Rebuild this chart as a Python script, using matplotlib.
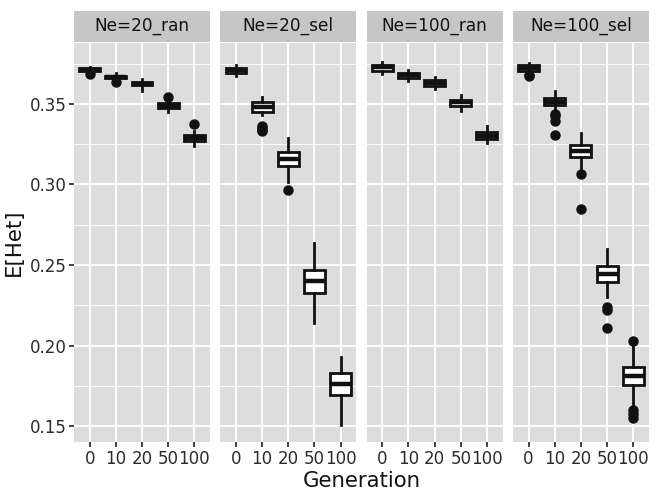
## Faceted boxplots of E[Het] by generation (ggplot-like look)

import matplotlib
matplotlib.use('Agg')
import matplotlib.pyplot as plt

## Data
panels = ['Ne=20_ran', 'Ne=20_sel', 'Ne=100_ran', 'Ne=100_sel']
generations = ['0', '10', '20', '50', '100']

medians = [
    [0.3710, 0.3668, 0.3625, 0.3490, 0.3290],
    [0.3708, 0.3483, 0.3157, 0.2403, 0.1760],
    [0.3726, 0.3677, 0.3630, 0.3510, 0.3303],
    [0.3725, 0.3514, 0.3210, 0.2444, 0.1813],
]
q1s = [
    [0.3703, 0.3660, 0.3616, 0.3473, 0.3269],
    [0.3694, 0.3450, 0.3117, 0.2326, 0.1691],
    [0.3705, 0.3659, 0.3613, 0.3488, 0.3281],
    [0.3705, 0.3492, 0.3173, 0.2392, 0.1758],
]
q3s = [
    [0.3720, 0.3676, 0.3634, 0.3508, 0.3308],
    [0.3721, 0.3514, 0.3200, 0.2471, 0.1828],
    [0.3742, 0.3694, 0.3649, 0.3527, 0.3325],
    [0.3742, 0.3539, 0.3248, 0.2496, 0.1866],
]
whisk_lo = [
    [0.3697, 0.3650, 0.3580, 0.3450, 0.3240],
    [0.3674, 0.3430, 0.3016, 0.2142, 0.1510],
    [0.3684, 0.3643, 0.3591, 0.3457, 0.3256],
    [0.3695, 0.3467, 0.3105, 0.2300, 0.1618],
]
whisk_hi = [
    [0.3730, 0.3694, 0.3657, 0.3530, 0.3335],
    [0.3740, 0.3540, 0.3290, 0.2634, 0.1932],
    [0.3760, 0.3710, 0.3670, 0.3556, 0.3360],
    [0.3756, 0.3580, 0.3318, 0.2600, 0.2000],
]
outliers = [
    [[0.3685], [0.3635], [], [0.3545], [0.3375]],
    [[], [0.3360, 0.3348, 0.3338, 0.3330], [0.2963], [], []],
    [[], [], [], [], []],
    [[0.3680, 0.3675], [0.3440, 0.3425, 0.3395, 0.3310],
     [0.3068, 0.2850], [0.2240, 0.2220, 0.2110],
     [0.2030, 0.1600, 0.1575, 0.1550]],
]

fig = plt.figure(figsize=(6.61, 5.03), dpi=100)
W, H = 661.0, 503.0
left0, pw, step = 74, 136, 146.3
ptop, pbot = 43, 442
strip_top, strip_bot = 10.5, 41.5

for i, name in enumerate(panels):
    x0 = left0 + i * step
    ax = fig.add_axes([x0 / W, 1 - pbot / H, pw / W, (pbot - ptop) / H])
    ax.set_facecolor('#DDDDDD')
    for s in ax.spines.values():
        s.set_visible(False)

    stats = []
    for j, g in enumerate(generations):
        stats.append(dict(med=medians[i][j], q1=q1s[i][j], q3=q3s[i][j],
                          whislo=whisk_lo[i][j], whishi=whisk_hi[i][j],
                          fliers=outliers[i][j], label=g))
    ax.bxp(stats, positions=range(1, 6), widths=0.8, patch_artist=True,
           showcaps=False,
           boxprops=dict(facecolor='white', edgecolor='#111111', linewidth=2),
           medianprops=dict(color='#111111', linewidth=3.2),
           whiskerprops=dict(color='#111111', linewidth=2),
           flierprops=dict(marker='o', markerfacecolor='#111111',
                           markeredgecolor='#111111', markersize=6.5))

    ax.set_xlim(0.4, 5.6)
    ax.set_ylim(0.1402, 0.3878)
    ax.set_yticks([0.15, 0.20, 0.25, 0.30, 0.35])
    ax.set_yticks([0.175, 0.225, 0.275, 0.325, 0.375], minor=True)
    ax.grid(True, which='major', color='white', linewidth=1.4)
    ax.grid(True, which='minor', axis='y', color='white', linewidth=0.7)
    ax.set_axisbelow(True)
    ax.tick_params(axis='x', which='major', length=3.5, width=1.2,
                   color='#222222', labelsize=12, labelcolor='#2B2B2B', pad=2)
    ax.tick_params(axis='y', which='minor', length=0)
    if i == 0:
        ax.set_yticklabels(['0.15', '0.20', '0.25', '0.30', '0.35'])
        ax.tick_params(axis='y', which='major', length=3.5, width=1.2,
                       color='#222222', labelsize=12, labelcolor='#2B2B2B', pad=2)
    else:
        ax.tick_params(axis='y', which='major', length=0, labelleft=False)

    # facet strip
    sax = fig.add_axes([x0 / W, 1 - strip_bot / H, pw / W, (strip_bot - strip_top) / H])
    sax.set_facecolor('#C6C6C6')
    sax.set_xticks([])
    sax.set_yticks([])
    for s in sax.spines.values():
        s.set_visible(False)
    sax.text(0.5, 0.5, name, ha='center', va='center', fontsize=12.2,
             color='#111111', transform=sax.transAxes)

fig.text((left0 + (3 * step + pw) / 2) / W, 1 - 481 / H, 'Generation',
         ha='center', va='center', fontsize=15.3, color='#111111')
fig.text(14 / W, 1 - 242 / H, 'E[Het]', ha='center', va='center',
         rotation=90, fontsize=15.3, color='#111111')

plt.savefig('out.png', dpi=100)
